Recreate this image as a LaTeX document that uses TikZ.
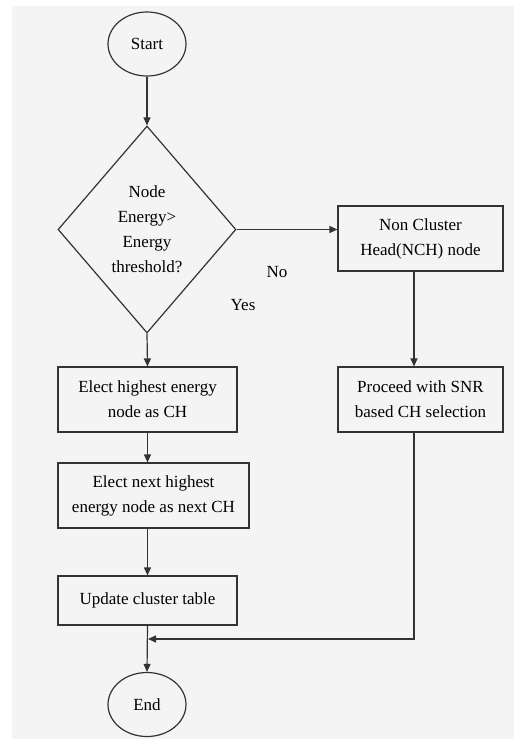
\documentclass[tikz,border=0pt]{standalone}
\usepackage{fontspec}
\setmainfont{Liberation Serif}
\usetikzlibrary{shapes.geometric,arrows.meta}
\definecolor{bg}{HTML}{F4F4F4}
\definecolor{ln}{HTML}{333333}
\begin{document}
\begin{tikzpicture}[x=1pt,y=-1pt,
  every node/.style={font=\fontsize{17}{25}\selectfont, text=black},
  shp/.style={draw=ln, line width=1.2pt, inner sep=0pt, align=center},
  oval/.style={shp, ellipse, minimum width=78pt, minimum height=64pt},
  decis/.style={shp, diamond, minimum width=178pt, minimum height=207pt},
  box/.style={shp, rectangle, minimum height=65pt},
  arr/.style={draw=ln, line width=1.2pt, -{Triangle[length=8pt,width=7pt]}},
  lin/.style={draw=ln, line width=1.2pt},
  lbl/.style={inner sep=0pt}
]
\useasboundingbox (0,0) rectangle (514,739);
\fill[bg] (12,6) rectangle (514,739);

\node[oval] (start) at (147,44) {Start};
\node[decis] (dec) at (147,229.5) {Node\\Energy>\\Energy\\threshold?};
\node[box, minimum width=165pt] (nch) at (420.5,238.5) {Non Cluster\\Head(NCH) node};
\node[box, minimum width=165pt] (snr) at (420.5,399.5) {Proceed with SNR\\based CH selection};
\node[box, minimum width=179pt] (b1) at (147.5,399.5) {Elect highest energy\\node as CH};
\node[box, minimum width=191pt] (b2) at (153.5,495.5) {Elect next highest\\energy node as next CH};
\node[box, minimum width=179pt, minimum height=49pt] (b3) at (147.5,600.5) {Update cluster table};
\node[oval] (end) at (147,704.5) {End};

\node[lbl] (no) at (277,272) {No};
\node[lbl] (yes) at (243,305) {Yes};

\coordinate (j) at (147,639);

\draw[arr] (start) -- (dec.north);
\draw[arr] (dec.east) -- (dec.east -| nch.west);
\draw[arr] (dec.south) -- (b1.north);
\draw[arr] ([xshift=-6.5pt]nch.south) -- ([xshift=-6.5pt]snr.north);
\draw[arr] (b1.south) -- (b1.south |- b2.north);
\draw[arr] (b1.south |- b2.south) -- (b1.south |- b3.north);
\draw[arr] ([xshift=-6.5pt]snr.south) |- ([xshift=1pt]j);
\draw[arr] (b3.south) -- (end.north);
\end{tikzpicture}
\end{document}
